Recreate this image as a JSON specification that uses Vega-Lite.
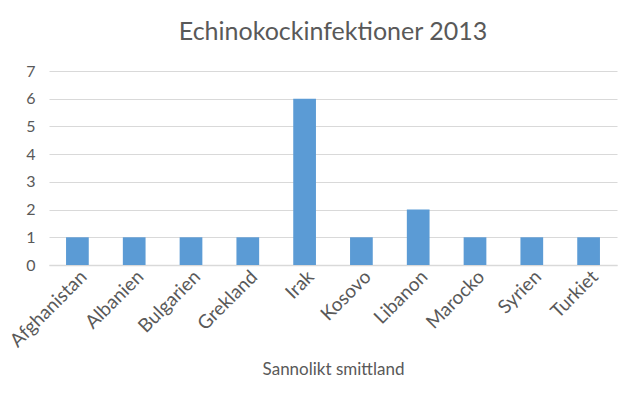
{
  "$schema": "https://vega.github.io/schema/vega-lite/v6.json",
  "width": 636,
  "height": 395,
  "autosize": {"type": "fit", "contains": "padding"},
  "padding": {"left": 10, "right": 19, "top": 20, "bottom": 17},
  "background": "white",
  "title": {
    "text": "Echinokockinfektioner 2013",
    "font": "Lato",
    "fontSize": 25,
    "fontWeight": "normal",
    "color": "#595959",
    "offset": 18
  },
  "data": {
    "values": [
      {"land": "Afghanistan", "antal": 1},
      {"land": "Albanien", "antal": 1},
      {"land": "Bulgarien", "antal": 1},
      {"land": "Grekland", "antal": 1},
      {"land": "Irak", "antal": 6},
      {"land": "Kosovo", "antal": 1},
      {"land": "Libanon", "antal": 2},
      {"land": "Marocko", "antal": 1},
      {"land": "Syrien", "antal": 1},
      {"land": "Turkiet", "antal": 1}
    ]
  },
  "mark": {"type": "bar", "color": "#5B9BD5"},
  "encoding": {
    "x": {
      "field": "land",
      "type": "nominal",
      "sort": null,
      "scale": {"paddingInner": 0.6, "paddingOuter": 0.3},
      "axis": {
        "title": "Sannolikt smittland",
        "titleFont": "Lato",
        "titleFontSize": 17,
        "titleFontWeight": "normal",
        "titleColor": "#595959",
        "titlePadding": 11,
        "labelAngle": -45,
        "labelFont": "Lato",
        "labelFontSize": 19,
        "labelColor": "#595959",
        "labelPadding": 2,
        "ticks": false,
        "domainColor": "#D9D9D9",
        "domainWidth": 1.5
      }
    },
    "y": {
      "field": "antal",
      "type": "quantitative",
      "scale": {"domain": [0, 7]},
      "axis": {
        "title": null,
        "values": [0, 1, 2, 3, 4, 5, 6, 7],
        "labelOverlap": false,
        "labelFont": "Lato",
        "labelFontSize": 16,
        "labelColor": "#595959",
        "labelPadding": 14,
        "ticks": false,
        "domain": false,
        "grid": true,
        "gridColor": "#D9D9D9",
        "gridWidth": 1.2
      }
    }
  },
  "config": {"view": {"stroke": null}}
}
